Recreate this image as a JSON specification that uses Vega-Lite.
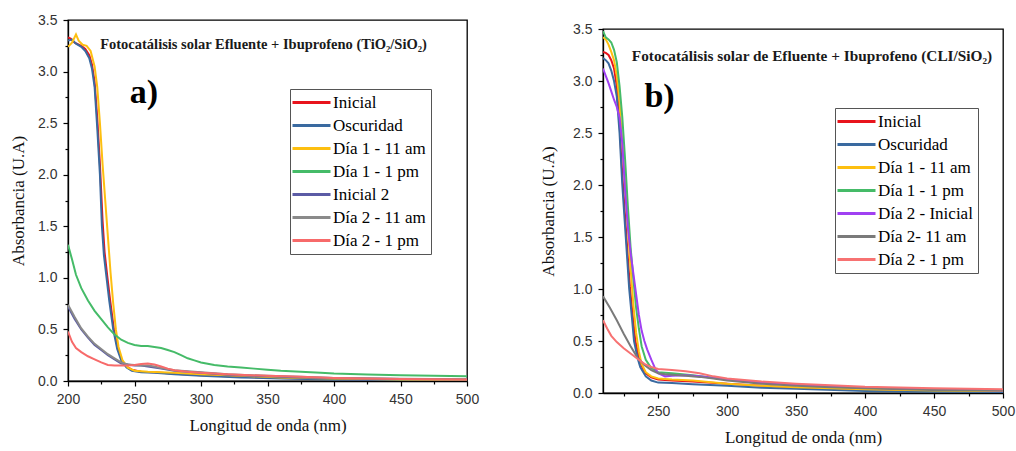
{
  "$schema": "https://vega.github.io/schema/vega-lite/v6.json",
  "background": "white",
  "padding": {"left": 8, "top": 12, "right": 3, "bottom": 2},
  "datasets": {
    "a": [
      {"s":"Inicial","x":200,"y":3.33},{"s":"Inicial","x":202,"y":3.32},{"s":"Inicial","x":205,"y":3.28},{"s":"Inicial","x":210,"y":3.25},{"s":"Inicial","x":213,"y":3.22},{"s":"Inicial","x":216,"y":3.16},{"s":"Inicial","x":218,"y":3.07},{"s":"Inicial","x":220,"y":2.9},{"s":"Inicial","x":222,"y":2.55},{"s":"Inicial","x":224,"y":2.1},{"s":"Inicial","x":226,"y":1.55},{"s":"Inicial","x":227.5,"y":1.25},{"s":"Inicial","x":229.5,"y":1.02},{"s":"Inicial","x":231.5,"y":0.8},{"s":"Inicial","x":234.5,"y":0.5},{"s":"Inicial","x":237.5,"y":0.31},{"s":"Inicial","x":240.5,"y":0.2},{"s":"Inicial","x":244,"y":0.14},{"s":"Inicial","x":248,"y":0.11},{"s":"Inicial","x":255,"y":0.09},{"s":"Inicial","x":265,"y":0.085},{"s":"Inicial","x":280,"y":0.07},{"s":"Inicial","x":300,"y":0.055},{"s":"Inicial","x":330,"y":0.04},{"s":"Inicial","x":360,"y":0.03},{"s":"Inicial","x":400,"y":0.02},{"s":"Inicial","x":450,"y":0.015},{"s":"Inicial","x":500,"y":0.01},
      {"s":"Oscuridad","x":200,"y":3.3},{"s":"Oscuridad","x":203,"y":3.31},{"s":"Oscuridad","x":206,"y":3.27},{"s":"Oscuridad","x":210,"y":3.24},{"s":"Oscuridad","x":213,"y":3.2},{"s":"Oscuridad","x":216,"y":3.13},{"s":"Oscuridad","x":218,"y":3.03},{"s":"Oscuridad","x":220,"y":2.85},{"s":"Oscuridad","x":222,"y":2.45},{"s":"Oscuridad","x":224,"y":2.0},{"s":"Oscuridad","x":225.5,"y":1.5},{"s":"Oscuridad","x":227,"y":1.22},{"s":"Oscuridad","x":229,"y":1.0},{"s":"Oscuridad","x":231,"y":0.78},{"s":"Oscuridad","x":234,"y":0.5},{"s":"Oscuridad","x":237,"y":0.31},{"s":"Oscuridad","x":240,"y":0.2},{"s":"Oscuridad","x":244,"y":0.13},{"s":"Oscuridad","x":248,"y":0.1},{"s":"Oscuridad","x":255,"y":0.085},{"s":"Oscuridad","x":265,"y":0.08},{"s":"Oscuridad","x":280,"y":0.065},{"s":"Oscuridad","x":300,"y":0.05},{"s":"Oscuridad","x":330,"y":0.035},{"s":"Oscuridad","x":360,"y":0.025},{"s":"Oscuridad","x":400,"y":0.015},{"s":"Oscuridad","x":450,"y":0.01},{"s":"Oscuridad","x":500,"y":0.008},
      {"s":"Día 1 - 11 am","x":200,"y":3.24},{"s":"Día 1 - 11 am","x":203,"y":3.28},{"s":"Día 1 - 11 am","x":206,"y":3.36},{"s":"Día 1 - 11 am","x":208,"y":3.3},{"s":"Día 1 - 11 am","x":211,"y":3.26},{"s":"Día 1 - 11 am","x":214,"y":3.25},{"s":"Día 1 - 11 am","x":217,"y":3.2},{"s":"Día 1 - 11 am","x":220,"y":3.05},{"s":"Día 1 - 11 am","x":222,"y":2.85},{"s":"Día 1 - 11 am","x":224,"y":2.5},{"s":"Día 1 - 11 am","x":226,"y":2.1},{"s":"Día 1 - 11 am","x":228,"y":1.75},{"s":"Día 1 - 11 am","x":230,"y":1.4},{"s":"Día 1 - 11 am","x":232,"y":1.05},{"s":"Día 1 - 11 am","x":234,"y":0.75},{"s":"Día 1 - 11 am","x":236,"y":0.5},{"s":"Día 1 - 11 am","x":238,"y":0.33},{"s":"Día 1 - 11 am","x":241,"y":0.2},{"s":"Día 1 - 11 am","x":245,"y":0.13},{"s":"Día 1 - 11 am","x":250,"y":0.1},{"s":"Día 1 - 11 am","x":260,"y":0.09},{"s":"Día 1 - 11 am","x":280,"y":0.08},{"s":"Día 1 - 11 am","x":300,"y":0.065},{"s":"Día 1 - 11 am","x":330,"y":0.05},{"s":"Día 1 - 11 am","x":360,"y":0.035},{"s":"Día 1 - 11 am","x":400,"y":0.025},{"s":"Día 1 - 11 am","x":450,"y":0.015},{"s":"Día 1 - 11 am","x":500,"y":0.01},
      {"s":"Día 1 - 1 pm","x":200,"y":1.32},{"s":"Día 1 - 1 pm","x":203,"y":1.18},{"s":"Día 1 - 1 pm","x":206,"y":1.03},{"s":"Día 1 - 1 pm","x":210,"y":0.9},{"s":"Día 1 - 1 pm","x":215,"y":0.78},{"s":"Día 1 - 1 pm","x":220,"y":0.68},{"s":"Día 1 - 1 pm","x":225,"y":0.6},{"s":"Día 1 - 1 pm","x":230,"y":0.52},{"s":"Día 1 - 1 pm","x":235,"y":0.45},{"s":"Día 1 - 1 pm","x":240,"y":0.4},{"s":"Día 1 - 1 pm","x":245,"y":0.37},{"s":"Día 1 - 1 pm","x":250,"y":0.35},{"s":"Día 1 - 1 pm","x":255,"y":0.34},{"s":"Día 1 - 1 pm","x":260,"y":0.34},{"s":"Día 1 - 1 pm","x":265,"y":0.33},{"s":"Día 1 - 1 pm","x":270,"y":0.32},{"s":"Día 1 - 1 pm","x":275,"y":0.3},{"s":"Día 1 - 1 pm","x":280,"y":0.28},{"s":"Día 1 - 1 pm","x":285,"y":0.25},{"s":"Día 1 - 1 pm","x":290,"y":0.22},{"s":"Día 1 - 1 pm","x":295,"y":0.2},{"s":"Día 1 - 1 pm","x":300,"y":0.18},{"s":"Día 1 - 1 pm","x":310,"y":0.155},{"s":"Día 1 - 1 pm","x":320,"y":0.14},{"s":"Día 1 - 1 pm","x":330,"y":0.13},{"s":"Día 1 - 1 pm","x":340,"y":0.12},{"s":"Día 1 - 1 pm","x":350,"y":0.11},{"s":"Día 1 - 1 pm","x":360,"y":0.1},{"s":"Día 1 - 1 pm","x":375,"y":0.09},{"s":"Día 1 - 1 pm","x":390,"y":0.08},{"s":"Día 1 - 1 pm","x":400,"y":0.072},{"s":"Día 1 - 1 pm","x":425,"y":0.062},{"s":"Día 1 - 1 pm","x":450,"y":0.055},{"s":"Día 1 - 1 pm","x":475,"y":0.05},{"s":"Día 1 - 1 pm","x":500,"y":0.045},
      {"s":"Inicial 2","x":200,"y":0.72},{"s":"Inicial 2","x":205,"y":0.6},{"s":"Inicial 2","x":210,"y":0.5},{"s":"Inicial 2","x":215,"y":0.42},{"s":"Inicial 2","x":220,"y":0.35},{"s":"Inicial 2","x":225,"y":0.3},{"s":"Inicial 2","x":230,"y":0.25},{"s":"Inicial 2","x":235,"y":0.21},{"s":"Inicial 2","x":240,"y":0.17},{"s":"Inicial 2","x":245,"y":0.16},{"s":"Inicial 2","x":250,"y":0.15},{"s":"Inicial 2","x":255,"y":0.15},{"s":"Inicial 2","x":260,"y":0.14},{"s":"Inicial 2","x":270,"y":0.12},{"s":"Inicial 2","x":280,"y":0.1},{"s":"Inicial 2","x":290,"y":0.09},{"s":"Inicial 2","x":300,"y":0.08},{"s":"Inicial 2","x":320,"y":0.06},{"s":"Inicial 2","x":350,"y":0.045},{"s":"Inicial 2","x":375,"y":0.035},{"s":"Inicial 2","x":400,"y":0.028},{"s":"Inicial 2","x":450,"y":0.02},{"s":"Inicial 2","x":500,"y":0.015},
      {"s":"Día 2 - 11 am","x":200,"y":0.74},{"s":"Día 2 - 11 am","x":205,"y":0.62},{"s":"Día 2 - 11 am","x":210,"y":0.51},{"s":"Día 2 - 11 am","x":215,"y":0.43},{"s":"Día 2 - 11 am","x":220,"y":0.36},{"s":"Día 2 - 11 am","x":225,"y":0.31},{"s":"Día 2 - 11 am","x":230,"y":0.26},{"s":"Día 2 - 11 am","x":235,"y":0.22},{"s":"Día 2 - 11 am","x":240,"y":0.18},{"s":"Día 2 - 11 am","x":245,"y":0.16},{"s":"Día 2 - 11 am","x":250,"y":0.155},{"s":"Día 2 - 11 am","x":255,"y":0.15},{"s":"Día 2 - 11 am","x":260,"y":0.15},{"s":"Día 2 - 11 am","x":265,"y":0.14},{"s":"Día 2 - 11 am","x":270,"y":0.125},{"s":"Día 2 - 11 am","x":280,"y":0.105},{"s":"Día 2 - 11 am","x":290,"y":0.095},{"s":"Día 2 - 11 am","x":300,"y":0.085},{"s":"Día 2 - 11 am","x":320,"y":0.065},{"s":"Día 2 - 11 am","x":350,"y":0.05},{"s":"Día 2 - 11 am","x":375,"y":0.04},{"s":"Día 2 - 11 am","x":400,"y":0.03},{"s":"Día 2 - 11 am","x":450,"y":0.022},{"s":"Día 2 - 11 am","x":500,"y":0.018},
      {"s":"Día 2 - 1 pm","x":200,"y":0.48},{"s":"Día 2 - 1 pm","x":203,"y":0.38},{"s":"Día 2 - 1 pm","x":206,"y":0.32},{"s":"Día 2 - 1 pm","x":210,"y":0.28},{"s":"Día 2 - 1 pm","x":215,"y":0.24},{"s":"Día 2 - 1 pm","x":220,"y":0.21},{"s":"Día 2 - 1 pm","x":225,"y":0.18},{"s":"Día 2 - 1 pm","x":230,"y":0.155},{"s":"Día 2 - 1 pm","x":235,"y":0.15},{"s":"Día 2 - 1 pm","x":240,"y":0.15},{"s":"Día 2 - 1 pm","x":245,"y":0.15},{"s":"Día 2 - 1 pm","x":250,"y":0.155},{"s":"Día 2 - 1 pm","x":255,"y":0.165},{"s":"Día 2 - 1 pm","x":260,"y":0.17},{"s":"Día 2 - 1 pm","x":265,"y":0.16},{"s":"Día 2 - 1 pm","x":270,"y":0.14},{"s":"Día 2 - 1 pm","x":275,"y":0.12},{"s":"Día 2 - 1 pm","x":280,"y":0.105},{"s":"Día 2 - 1 pm","x":290,"y":0.09},{"s":"Día 2 - 1 pm","x":300,"y":0.08},{"s":"Día 2 - 1 pm","x":320,"y":0.065},{"s":"Día 2 - 1 pm","x":350,"y":0.05},{"s":"Día 2 - 1 pm","x":375,"y":0.04},{"s":"Día 2 - 1 pm","x":400,"y":0.03},{"s":"Día 2 - 1 pm","x":450,"y":0.02},{"s":"Día 2 - 1 pm","x":500,"y":0.015}
    ],
    "b": [
      {"s":"Inicial","x":210,"y":3.28},{"s":"Inicial","x":212,"y":3.27},{"s":"Inicial","x":214,"y":3.25},{"s":"Inicial","x":216,"y":3.2},{"s":"Inicial","x":218,"y":3.12},{"s":"Inicial","x":220,"y":2.95},{"s":"Inicial","x":222,"y":2.6},{"s":"Inicial","x":224,"y":2.1},{"s":"Inicial","x":226,"y":1.7},{"s":"Inicial","x":227.5,"y":1.4},{"s":"Inicial","x":229.5,"y":1.02},{"s":"Inicial","x":231.5,"y":0.75},{"s":"Inicial","x":233.5,"y":0.5},{"s":"Inicial","x":236,"y":0.34},{"s":"Inicial","x":238,"y":0.26},{"s":"Inicial","x":241,"y":0.19},{"s":"Inicial","x":245,"y":0.15},{"s":"Inicial","x":250,"y":0.13},{"s":"Inicial","x":260,"y":0.12},{"s":"Inicial","x":275,"y":0.11},{"s":"Inicial","x":300,"y":0.09},{"s":"Inicial","x":325,"y":0.07},{"s":"Inicial","x":350,"y":0.05},{"s":"Inicial","x":400,"y":0.035},{"s":"Inicial","x":450,"y":0.025},{"s":"Inicial","x":500,"y":0.02},
      {"s":"Oscuridad","x":210,"y":3.22},{"s":"Oscuridad","x":212,"y":3.2},{"s":"Oscuridad","x":214,"y":3.17},{"s":"Oscuridad","x":216,"y":3.1},{"s":"Oscuridad","x":218,"y":3.0},{"s":"Oscuridad","x":220,"y":2.85},{"s":"Oscuridad","x":222,"y":2.5},{"s":"Oscuridad","x":224,"y":2.0},{"s":"Oscuridad","x":226.5,"y":1.5},{"s":"Oscuridad","x":229,"y":1.0},{"s":"Oscuridad","x":231,"y":0.72},{"s":"Oscuridad","x":232.5,"y":0.5},{"s":"Oscuridad","x":235,"y":0.34},{"s":"Oscuridad","x":237,"y":0.25},{"s":"Oscuridad","x":241,"y":0.16},{"s":"Oscuridad","x":245,"y":0.12},{"s":"Oscuridad","x":250,"y":0.1},{"s":"Oscuridad","x":260,"y":0.095},{"s":"Oscuridad","x":275,"y":0.085},{"s":"Oscuridad","x":300,"y":0.07},{"s":"Oscuridad","x":325,"y":0.05},{"s":"Oscuridad","x":350,"y":0.04},{"s":"Oscuridad","x":400,"y":0.02},{"s":"Oscuridad","x":450,"y":0.012},{"s":"Oscuridad","x":500,"y":0.01},
      {"s":"Día 1 - 11 am","x":210,"y":3.42},{"s":"Día 1 - 11 am","x":212,"y":3.4},{"s":"Día 1 - 11 am","x":214,"y":3.35},{"s":"Día 1 - 11 am","x":216,"y":3.28},{"s":"Día 1 - 11 am","x":218,"y":3.2},{"s":"Día 1 - 11 am","x":220,"y":3.05},{"s":"Día 1 - 11 am","x":222,"y":2.8},{"s":"Día 1 - 11 am","x":224,"y":2.4},{"s":"Día 1 - 11 am","x":226,"y":2.0},{"s":"Día 1 - 11 am","x":228,"y":1.6},{"s":"Día 1 - 11 am","x":230,"y":1.2},{"s":"Día 1 - 11 am","x":232,"y":0.85},{"s":"Día 1 - 11 am","x":234,"y":0.58},{"s":"Día 1 - 11 am","x":236,"y":0.4},{"s":"Día 1 - 11 am","x":238,"y":0.28},{"s":"Día 1 - 11 am","x":241,"y":0.2},{"s":"Día 1 - 11 am","x":245,"y":0.16},{"s":"Día 1 - 11 am","x":250,"y":0.14},{"s":"Día 1 - 11 am","x":260,"y":0.13},{"s":"Día 1 - 11 am","x":275,"y":0.12},{"s":"Día 1 - 11 am","x":300,"y":0.09},{"s":"Día 1 - 11 am","x":325,"y":0.07},{"s":"Día 1 - 11 am","x":350,"y":0.055},{"s":"Día 1 - 11 am","x":400,"y":0.035},{"s":"Día 1 - 11 am","x":450,"y":0.025},{"s":"Día 1 - 11 am","x":500,"y":0.02},
      {"s":"Día 1 - 1 pm","x":210,"y":3.48},{"s":"Día 1 - 1 pm","x":212,"y":3.42},{"s":"Día 1 - 1 pm","x":214,"y":3.4},{"s":"Día 1 - 1 pm","x":216,"y":3.37},{"s":"Día 1 - 1 pm","x":218,"y":3.3},{"s":"Día 1 - 1 pm","x":220,"y":3.18},{"s":"Día 1 - 1 pm","x":222,"y":2.95},{"s":"Día 1 - 1 pm","x":224,"y":2.65},{"s":"Día 1 - 1 pm","x":226,"y":2.25},{"s":"Día 1 - 1 pm","x":228,"y":1.8},{"s":"Día 1 - 1 pm","x":230,"y":1.4},{"s":"Día 1 - 1 pm","x":232,"y":1.1},{"s":"Día 1 - 1 pm","x":234,"y":0.82},{"s":"Día 1 - 1 pm","x":236,"y":0.62},{"s":"Día 1 - 1 pm","x":238,"y":0.45},{"s":"Día 1 - 1 pm","x":241,"y":0.32},{"s":"Día 1 - 1 pm","x":245,"y":0.24},{"s":"Día 1 - 1 pm","x":250,"y":0.2},{"s":"Día 1 - 1 pm","x":260,"y":0.19},{"s":"Día 1 - 1 pm","x":275,"y":0.17},{"s":"Día 1 - 1 pm","x":300,"y":0.13},{"s":"Día 1 - 1 pm","x":325,"y":0.1},{"s":"Día 1 - 1 pm","x":350,"y":0.08},{"s":"Día 1 - 1 pm","x":400,"y":0.05},{"s":"Día 1 - 1 pm","x":450,"y":0.035},{"s":"Día 1 - 1 pm","x":500,"y":0.03},
      {"s":"Día 2 - Inicial","x":210,"y":3.12},{"s":"Día 2 - Inicial","x":212,"y":3.05},{"s":"Día 2 - Inicial","x":214,"y":2.98},{"s":"Día 2 - Inicial","x":216,"y":2.9},{"s":"Día 2 - Inicial","x":218,"y":2.82},{"s":"Día 2 - Inicial","x":220,"y":2.75},{"s":"Día 2 - Inicial","x":222,"y":2.65},{"s":"Día 2 - Inicial","x":224,"y":2.4},{"s":"Día 2 - Inicial","x":226,"y":1.95},{"s":"Día 2 - Inicial","x":228,"y":1.6},{"s":"Día 2 - Inicial","x":230,"y":1.35},{"s":"Día 2 - Inicial","x":232,"y":1.15},{"s":"Día 2 - Inicial","x":234,"y":0.95},{"s":"Día 2 - Inicial","x":236,"y":0.75},{"s":"Día 2 - Inicial","x":238,"y":0.6},{"s":"Día 2 - Inicial","x":240,"y":0.5},{"s":"Día 2 - Inicial","x":242,"y":0.42},{"s":"Día 2 - Inicial","x":245,"y":0.32},{"s":"Día 2 - Inicial","x":248,"y":0.23},{"s":"Día 2 - Inicial","x":250,"y":0.19},{"s":"Día 2 - Inicial","x":255,"y":0.16},{"s":"Día 2 - Inicial","x":260,"y":0.165},{"s":"Día 2 - Inicial","x":270,"y":0.17},{"s":"Día 2 - Inicial","x":280,"y":0.16},{"s":"Día 2 - Inicial","x":300,"y":0.13},{"s":"Día 2 - Inicial","x":325,"y":0.1},{"s":"Día 2 - Inicial","x":350,"y":0.08},{"s":"Día 2 - Inicial","x":400,"y":0.05},{"s":"Día 2 - Inicial","x":450,"y":0.035},{"s":"Día 2 - Inicial","x":500,"y":0.025},
      {"s":"Día 2- 11 am","x":210,"y":0.93},{"s":"Día 2- 11 am","x":215,"y":0.82},{"s":"Día 2- 11 am","x":220,"y":0.7},{"s":"Día 2- 11 am","x":225,"y":0.57},{"s":"Día 2- 11 am","x":230,"y":0.45},{"s":"Día 2- 11 am","x":235,"y":0.34},{"s":"Día 2- 11 am","x":240,"y":0.27},{"s":"Día 2- 11 am","x":245,"y":0.22},{"s":"Día 2- 11 am","x":250,"y":0.19},{"s":"Día 2- 11 am","x":255,"y":0.18},{"s":"Día 2- 11 am","x":260,"y":0.175},{"s":"Día 2- 11 am","x":270,"y":0.165},{"s":"Día 2- 11 am","x":280,"y":0.155},{"s":"Día 2- 11 am","x":290,"y":0.14},{"s":"Día 2- 11 am","x":300,"y":0.12},{"s":"Día 2- 11 am","x":325,"y":0.09},{"s":"Día 2- 11 am","x":350,"y":0.07},{"s":"Día 2- 11 am","x":375,"y":0.055},{"s":"Día 2- 11 am","x":400,"y":0.045},{"s":"Día 2- 11 am","x":450,"y":0.03},{"s":"Día 2- 11 am","x":500,"y":0.025},
      {"s":"Día 2 - 1 pm","x":210,"y":0.7},{"s":"Día 2 - 1 pm","x":213,"y":0.62},{"s":"Día 2 - 1 pm","x":216,"y":0.55},{"s":"Día 2 - 1 pm","x":220,"y":0.49},{"s":"Día 2 - 1 pm","x":225,"y":0.43},{"s":"Día 2 - 1 pm","x":230,"y":0.38},{"s":"Día 2 - 1 pm","x":235,"y":0.33},{"s":"Día 2 - 1 pm","x":240,"y":0.28},{"s":"Día 2 - 1 pm","x":245,"y":0.25},{"s":"Día 2 - 1 pm","x":250,"y":0.23},{"s":"Día 2 - 1 pm","x":260,"y":0.22},{"s":"Día 2 - 1 pm","x":270,"y":0.21},{"s":"Día 2 - 1 pm","x":280,"y":0.19},{"s":"Día 2 - 1 pm","x":290,"y":0.16},{"s":"Día 2 - 1 pm","x":300,"y":0.14},{"s":"Día 2 - 1 pm","x":325,"y":0.11},{"s":"Día 2 - 1 pm","x":350,"y":0.09},{"s":"Día 2 - 1 pm","x":375,"y":0.075},{"s":"Día 2 - 1 pm","x":400,"y":0.06},{"s":"Día 2 - 1 pm","x":450,"y":0.045},{"s":"Día 2 - 1 pm","x":500,"y":0.035}
    ],
    "annA": [
      {"k":"t","x":347,"y":3.26,"label":"Fotocatálisis solar Efluente + Ibuprofeno (TiO₂/SiO₂)"},
      {"k":"p","x":257,"y":2.79,"label":"a)"}
    ],
    "annB": [
      {"k":"t","x":361.5,"y":3.24,"label":"Fotocatálisis solar de Efluente + Ibuprofeno (CLI/SiO₂)"},
      {"k":"p","x":251,"y":2.85,"label":"b)"}
    ]
  },
  "config": {
    "view": {"stroke": "black", "strokeWidth": 1.3},
    "axis": {
      "grid": false,
      "domainColor": "black",
      "domainWidth": 1.3,
      "tickColor": "black",
      "tickWidth": 1.2,
      "tickCount": 100,
      "labelFont": "Liberation Sans",
      "labelFontSize": 14,
      "labelColor": "#333333",
      "labelPadding": 6,
      "labelOverlap": false,
      "labelFlush": false,
      "titleFont": "Liberation Serif",
      "titleFontSize": 17,
      "titleFontWeight": "normal",
      "titleColor": "#111111"
    },
    "legend": {
      "strokeColor": "#555555",
      "fillColor": "white",
      "padding": 5,
      "labelFont": "Liberation Serif",
      "labelFontSize": 17,
      "labelColor": "black",
      "symbolType": "M-2.75,0H6.75",
      "symbolSize": 64,
      "symbolStrokeWidth": 3,
      "labelOffset": 21,
      "rowPadding": 5,
      "cornerRadius": 0
    }
  },
  "spacing": 58,
  "resolve": {"scale": {"color": "independent"}, "legend": {"color": "independent"}},
  "hconcat": [
    {
      "width": 399,
      "height": 361,
      "layer": [
        {
          "data": {"name": "a"},
          "mark": {"type": "line", "strokeWidth": 2, "clip": true},
          "encoding": {
            "x": {"field": "x", "type": "quantitative", "scale": {"domain": [200, 500], "nice": false, "zero": false},
              "axis": {"title": "Longitud de onda (nm)", "titlePadding": 11, "tickCount": 100,
                "values": [200,225,250,275,300,325,350,375,400,425,450,475,500],
                "labelExpr": "datum.value % 50 === 0 ? datum.label : ''",
                "tickSize": {"condition": {"test": "datum.value % 50 === 0", "value": 5}, "value": 3}}},
            "y": {"field": "y", "type": "quantitative", "scale": {"domain": [0, 3.5], "nice": false},
              "axis": {"title": "Absorbancia (U.A)", "titlePadding": 10, "tickCount": 100,
                "values": [0,0.25,0.5,0.75,1,1.25,1.5,1.75,2,2.25,2.5,2.75,3,3.25,3.5],
                "labelExpr": "(datum.value * 4) % 2 === 0 ? format(datum.value, '.1f') : ''",
                "tickSize": {"condition": {"test": "(datum.value * 4) % 2 === 0", "value": 5}, "value": 3}}},
            "color": {"field": "s", "type": "nominal",
              "scale": {"domain": ["Inicial","Oscuridad","Día 1 - 11 am","Día 1 - 1 pm","Inicial 2","Día 2 - 11 am","Día 2 - 1 pm"],
                "range": ["#e8141c","#3a6aa0","#fdbf10","#45bb68","#5b5ba5","#8a8a8a","#f76a6a"]},
              "legend": {"title": null, "orient": "none", "legendX": 222, "legendY": 69}}
          }
        },
        {
          "data": {"name": "annA"},
          "transform": [{"filter": "datum.k === 't'"}],
          "mark": {"type": "text", "font": "Liberation Serif", "fontWeight": "bold", "fontSize": 14.5, "color": "#1a1a1a", "align": "center", "baseline": "middle"},
          "encoding": {"x": {"field": "x", "type": "quantitative"}, "y": {"field": "y", "type": "quantitative"}, "text": {"field": "label"}}
        },
        {
          "data": {"name": "annA"},
          "transform": [{"filter": "datum.k === 'p'"}],
          "mark": {"type": "text", "font": "Liberation Serif", "fontWeight": "bold", "fontSize": 34, "color": "black", "align": "center", "baseline": "middle"},
          "encoding": {"x": {"field": "x", "type": "quantitative"}, "y": {"field": "y", "type": "quantitative"}, "text": {"field": "label"}}
        }
      ]
    },
    {
      "spacing": 0,
      "vconcat": [
        {
          "width": 400,
          "height": 1,
          "view": {"stroke": null},
          "data": {"values": []},
          "mark": {"type": "point", "opacity": 0},
          "encoding": {}
        },
        {
          "width": 400,
          "height": 364,
          "layer": [
            {
              "data": {"name": "b"},
              "mark": {"type": "line", "strokeWidth": 2, "clip": true},
              "encoding": {
                "x": {"field": "x", "type": "quantitative", "scale": {"domain": [210, 500], "nice": false, "zero": false},
                  "axis": {"title": "Longitud de onda (nm)", "titlePadding": 11, "tickCount": 100,
                    "values": [225,250,275,300,325,350,375,400,425,450,475,500],
                    "labelExpr": "datum.value % 50 === 0 ? datum.label : ''",
                    "tickSize": {"condition": {"test": "datum.value % 50 === 0", "value": 5}, "value": 3}}},
                "y": {"field": "y", "type": "quantitative", "scale": {"domain": [0, 3.5], "nice": false},
                  "axis": {"title": "Absorbancia (U.A)", "titlePadding": 15, "tickCount": 100,
                    "values": [0,0.25,0.5,0.75,1,1.25,1.5,1.75,2,2.25,2.5,2.75,3,3.25,3.5],
                    "labelExpr": "(datum.value * 4) % 2 === 0 ? format(datum.value, '.1f') : ''",
                    "tickSize": {"condition": {"test": "(datum.value * 4) % 2 === 0", "value": 5}, "value": 3}}},
                "color": {"field": "s", "type": "nominal",
                  "scale": {"domain": ["Inicial","Oscuridad","Día 1 - 11 am","Día 1 - 1 pm","Día 2 - Inicial","Día 2- 11 am","Día 2 - 1 pm"],
                    "range": ["#e8141c","#3a6aa0","#fdbf10","#45bb68","#a040f2","#7a7a7a","#f77272"]},
                  "legend": {"title": null, "orient": "none", "legendX": 232, "legendY": 88}}
              }
            },
            {
              "data": {"name": "annB"},
              "transform": [{"filter": "datum.k === 't'"}],
              "mark": {"type": "text", "font": "Liberation Serif", "fontWeight": "bold", "fontSize": 15.3, "color": "#1a1a1a", "align": "center", "baseline": "middle"},
              "encoding": {"x": {"field": "x", "type": "quantitative"}, "y": {"field": "y", "type": "quantitative"}, "text": {"field": "label"}}
            },
            {
              "data": {"name": "annB"},
              "transform": [{"filter": "datum.k === 'p'"}],
              "mark": {"type": "text", "font": "Liberation Serif", "fontWeight": "bold", "fontSize": 34, "color": "black", "align": "center", "baseline": "middle"},
              "encoding": {"x": {"field": "x", "type": "quantitative"}, "y": {"field": "y", "type": "quantitative"}, "text": {"field": "label"}}
            }
          ]
        }
      ]
    }
  ]
}
